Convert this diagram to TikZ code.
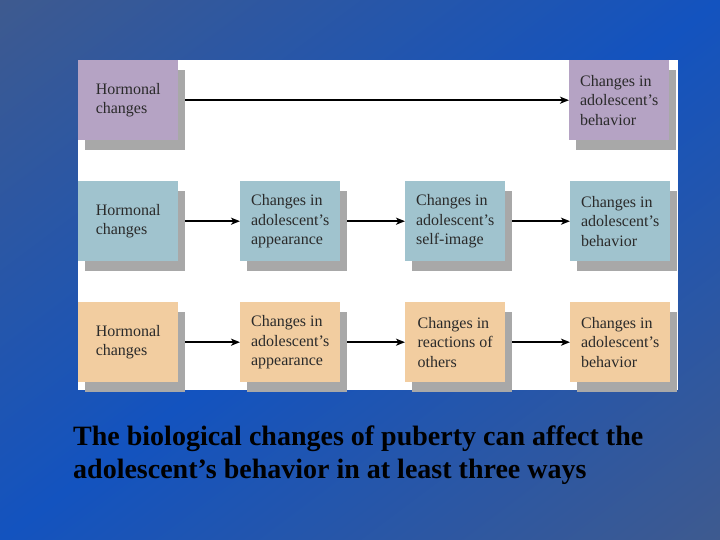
\documentclass[tikz,border=0pt]{standalone}
\usepackage{fontspec}
\setmainfont{Liberation Serif}
\usetikzlibrary{arrows.meta,shadows}
\definecolor{slate}{HTML}{3E5A8F}
\definecolor{bright}{HTML}{1353BF}
\definecolor{purp}{HTML}{B5A3C4}
\definecolor{teal}{HTML}{A0C3CE}
\definecolor{tan}{HTML}{F2CDA0}
\definecolor{shadowgray}{HTML}{A8A8A8}
\definecolor{boxtext}{HTML}{2A2A2A}
\tikzset{
  stagebox/.style={minimum height=80pt, minimum width=100pt, inner xsep=0pt, inner ysep=0pt,
    align=left, font=\fontsize{16pt}{19.5pt}\selectfont, text=boxtext, anchor=north west,
    drop shadow={shadow xshift=6.5pt, shadow yshift=-9.5pt, opacity=1, fill=shadowgray}},
  flowarrow/.style={line width=1.6pt, -{Stealth[length=9pt,width=7pt,inset=2.5pt]}}
}
\begin{document}
\begin{tikzpicture}[x=1pt,y=-1pt]
\useasboundingbox (0,0) rectangle (720,540);
% background gradient
\begin{scope}
\clip (0,0) rectangle (720,540);
\begin{scope}[transform canvas={rotate around={-53.13:(360,270)}}]
\shade[left color=slate, right color=slate, middle color=bright] (-72,-180) rectangle (792,720);
\end{scope}
\end{scope}
% white panel
\fill[white] (78,60) rectangle (678,390);
% row 1
\node[stagebox, fill=purp] (r1a) at (78,60) {Hormonal\\changes};
\node[stagebox, fill=purp] (r1d) at (569,60) {Changes in\\adolescent's\\behavior};
% row 2
\node[stagebox, fill=teal] (r2a) at (78,181) {Hormonal\\changes};
\node[stagebox, fill=teal] (r2b) at (240,181) {Changes in\\adolescent's\\appearance};
\node[stagebox, fill=teal] (r2c) at (405,181) {Changes in\\adolescent's\\self-image};
\node[stagebox, fill=teal] (r2d) at (570,181) {Changes in\\adolescent's\\behavior};
% row 3
\node[stagebox, fill=tan] (r3a) at (78,302) {Hormonal\\changes};
\node[stagebox, fill=tan] (r3b) at (240,302) {Changes in\\adolescent's\\appearance};
\node[stagebox, fill=tan] (r3c) at (405,302) {Changes in\\reactions of\\others};
\node[stagebox, fill=tan] (r3d) at (570,302) {Changes in\\adolescent's\\behavior};
% arrows
\draw[flowarrow] ([xshift=7pt]r1a.east) -- (r1d.west);
\draw[flowarrow] ([xshift=7pt]r2a.east) -- (r2b.west);
\draw[flowarrow] ([xshift=7pt]r2b.east) -- (r2c.west);
\draw[flowarrow] ([xshift=7pt]r2c.east) -- (r2d.west);
\draw[flowarrow] ([xshift=7pt]r3a.east) -- (r3b.west);
\draw[flowarrow] ([xshift=7pt]r3b.east) -- (r3c.west);
\draw[flowarrow] ([xshift=7pt]r3c.east) -- (r3d.west);
% caption
\node[anchor=base west, align=left, inner sep=0pt, font=\fontsize{28pt}{33pt}\selectfont\bfseries, text=black] (cap) at (73,478)
  {The biological changes of puberty can affect the\\adolescent’s behavior in at least three ways};
\end{tikzpicture}
\end{document}
